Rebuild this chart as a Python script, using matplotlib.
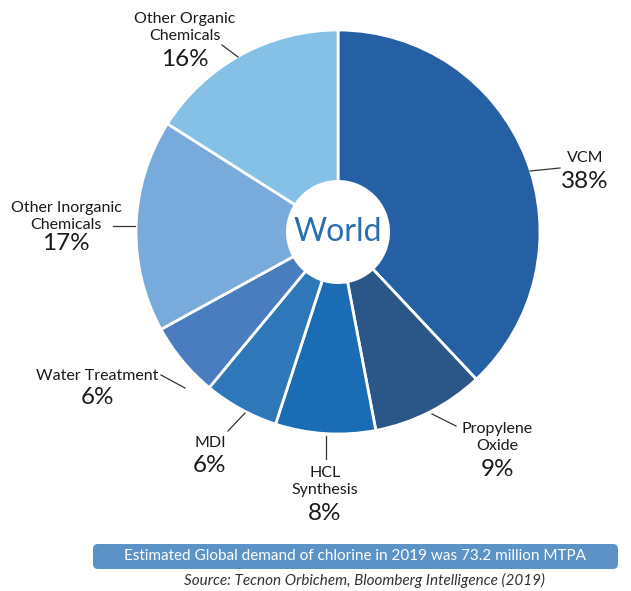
import matplotlib.pyplot as plt
from matplotlib.patches import Circle, FancyBboxPatch

# pie data, clockwise from 12 o'clock
labels = ["VCM", "Propylene\nOxide", "HCL\nSynthesis", "MDI", "Water Treatment",
          "Other Inorganic\nChemicals", "Other Organic\nChemicals"]
shares = [38, 9, 8, 6, 6, 17, 16]
colors = ["#2660a4", "#2b5688", "#1a6db5", "#2e78b9", "#4a7cc0", "#78aadb", "#85c0e6"]

plt.rcParams['font.family'] = ['Lato', 'DejaVu Sans']

W, H = 631, 591
fig = plt.figure(figsize=(W / 100, H / 100), dpi=100)
ax = fig.add_axes([0, 0, 1, 1])

cx, cy, r = 338, H - 232, 202
ax.pie(shares, colors=colors, startangle=90, counterclock=False,
       center=(cx, cy), radius=r,
       wedgeprops=dict(edgecolor="white", linewidth=2))
ax.add_patch(Circle((cx, cy), 52, facecolor="white", edgecolor="none", zorder=5))
ax.text(cx, cy, "World", ha="center", va="center", fontsize=23,
        color="#2a70b0", zorder=6)

ax.set_xlim(0, W)
ax.set_ylim(0, H)
ax.set_aspect("equal")
ax.axis("off")

# label positions (name top y, pct centre y) and leader lines, pixels from top
label_pos = [
    (585, 151, 181, (530, 171), (560, 168)),
    (497, 422, 470, (432, 414), (456, 426)),
    (325, 466, 514, (326, 436), (326, 459)),
    (210, 436, 465, (228, 431), (245, 413)),
    (97, 369, 397, (161, 375), (185, 388)),
    (66, 201, 244, (113, 226), (135, 226)),
    (185, 12, 60, (222, 45), (238, 57)),
]

for lab, sh, (x, yname, ypct, p0, p1) in zip(labels, shares, label_pos):
    ax.text(x, H - yname, lab, ha="center", va="top", fontsize=11.5,
            color="#1a1a1a", linespacing=1.25)
    ax.text(x, H - ypct, f"{sh}%", ha="center", va="center", fontsize=17.5,
            color="#1a1a1a")
    ax.plot([p0[0], p1[0]], [H - p0[1], H - p1[1]], color="#333333", lw=0.9)

box = FancyBboxPatch((93, H - 569), 525, 25, boxstyle="round,pad=0,rounding_size=5",
                     facecolor="#5b93c7", edgecolor="none")
ax.add_patch(box)
ax.text(355, H - 556.5, "Estimated Global demand of chlorine in 2019 was 73.2 million MTPA",
        ha="center", va="center", fontsize=11, color="white")
ax.text(364, H - 580, "Source: Tecnon Orbichem, Bloomberg Intelligence (2019)",
        ha="center", va="center", fontsize=11, style="italic", color="#333333")

fig.savefig("out.png", dpi=100)
